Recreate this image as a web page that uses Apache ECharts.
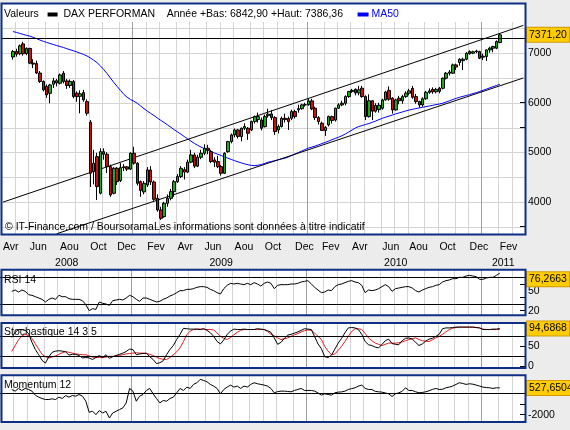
<!DOCTYPE html>
<html><head><meta charset="utf-8">
<script src="https://cdn.jsdelivr.net/npm/echarts@6/dist/echarts.min.js"></script>
<style>html,body{margin:0;padding:0;background:#ececec;}#c{width:570px;height:430px;}</style>
</head><body><div id="c"></div>
<script>
// ---------- DATA ----------
const firstMonday = [2008, 3, 7];     // category axis starts Monday 7 Apr 2008
const weekCount = 156;                // weekly categories on the axis
const firstDataWeek = 3;              // first candle: week of 28 Apr 2008
const monthNames = ['Jan','Fev','Mar','Avr','Mai','Jun','Jul','Aou','Sep','Oct','Nov','Dec'];
const labelMonths = [1,3,5,7,9,11];
const yearLow = 6842.90, yearHigh = 7386.36;
const refLine = 7305;
const priceTicks = [3500,4000,4500,5000,5500,6000,6500,7000,7500];
const priceLabels = [4000,5000,6000,7000];

// weekly [open, close, low, high]
const candles = [
[6925,7035,6870,7065],[7035,6980,6930,7090],[6990,7148,6960,7175],[7188,6990,6950,7229],[6990,7096,6960,7120],
[7096,6800,6780,7110],[6800,6780,6700,6880],[6790,6600,6580,6850],[6600,6430,6400,6640],[6430,6260,6230,6450],
[6330,6160,6100,6370],[6190,6360,5990,6380],[6374,6441,6300,6500],[6400,6445,6330,6480],[6394,6562,6370,6590],
[6596,6427,6390,6640],[6440,6350,6280,6480],[6347,6430,6300,6470],[6427,6124,6090,6460],[6192,6124,6020,6230],
[6130,6180,5788,6250],[6205,6057,6020,6260],[6023,5788,5740,6070],[5606,4576,4300,5650],[4610,4778,4350,5050],
[4912,4307,4037,4990],[4172,5013,4150,5080],[5013,4960,4850,5080],[4960,4710,4580,5000],[4710,4138,4100,4750],
[4172,4677,4150,4700],[4677,4407,4340,4700],[4430,4690,4400,4780],[4690,4705,4620,4760],[4705,4660,4620,4720],
[4660,4980,4640,5000],[4980,4780,4750,5110],[4778,4374,4330,4800],[4407,4230,4100,4430],[4200,4374,4150,4420],
[4340,4643,4300,4700],[4643,4400,4340,4720],[4400,4050,4020,4430],[4071,3835,3800,4150],[3835,3667,3633,3900],
[3700,3970,3680,4000],[3970,4071,3900,4150],[4071,4205,4030,4260],[4205,4407,4100,4440],[4407,4509,4380,4560],
[4509,4677,4480,4720],[4650,4600,4450,4700],[4600,4800,4580,4850],[4800,4946,4780,5050],[4946,4720,4680,4990],
[4720,4900,4700,4950],[4900,4980,4860,5050],[4980,5081,4940,5160],[5081,5040,4960,5150],[5013,4812,4780,5050],
[4845,4800,4700,4900],[4812,4710,4680,4930],[4710,4576,4530,4740],[4576,4980,4560,5000],[5013,5215,4990,5230],
[5215,5350,5180,5380],[5350,5451,5300,5480],[5451,5320,5280,5470],[5316,5485,5220,5500],[5485,5520,5450,5586],
[5485,5384,5250,5510],[5451,5620,5430,5640],[5620,5720,5580,5740],[5660,5720,5600,5800],[5653,5485,5440,5700],
[5518,5720,5500,5760],[5740,5770,5700,5880],[5774,5700,5650,5850],[5700,5417,5350,5730],[5451,5520,5380,5560],
[5520,5687,5500,5720],[5687,5660,5600,5780],[5680,5620,5450,5720],[5687,5822,5650,5860],[5822,5720,5680,5860],
[5855,5880,5800,5960],[5880,5956,5860,5980],[5956,5960,5920,6000],[5960,6037,5940,6090],[6037,5875,5850,6080],
[5889,5700,5650,5920],[5700,5620,5560,5730],[5586,5440,5430,5620],[5440,5500,5330,5530],[5552,5720,5520,5740],
[5720,5640,5580,5740],[5650,5889,5620,5900],[5889,5956,5880,5990],[5956,5990,5930,6040],[5990,6124,5950,6150],
[6124,6225,6100,6240],[6225,6250,6200,6280],[6270,6200,6150,6290],[6200,6260,6150,6340],[6293,6124,6100,6340],
[6124,5720,5650,6150],[5720,6040,5700,6170],[6040,5830,5650,6050],[5830,5946,5800,5990],[5860,5950,5800,6000],
[5889,6057,5860,6080],[6057,6216,6040,6240],[6250,6070,6040,6330],[6091,5855,5780,6110],[5855,6057,5840,6080],
[6090,6040,5970,6140],[6040,6124,5980,6160],[6124,6192,6100,6230],[6192,6240,6150,6280],[6290,6111,6080,6340],
[6124,6023,5980,6180],[6023,5956,5900,6040],[5956,6080,5920,6110],[6080,6210,6060,6240],[6210,6240,6180,6290],
[6270,6220,6180,6310],[6220,6270,6190,6300],[6293,6230,6190,6320],[6293,6495,6270,6510],[6495,6596,6470,6620],
[6596,6620,6550,6660],[6596,6764,6580,6790],[6764,6720,6660,6790],[6811,6878,6750,6900],[6850,6878,6660,6910],
[6878,7000,6860,7020],[7033,6990,6970,7060],[7000,7030,6980,7050],[7030,7045,7000,7070],[7033,6900,6880,7050],
[6920,6940,6860,6990],[6932,7067,6843,7080],[7067,7101,7010,7130],[7101,7135,7020,7150],[7101,7235,7080,7260],
[7215,7371.20,7200,7386.36]
];
const ma50 = [
7436,7420,7400,7380,7360,7345,7320,7295,7265,7240,7218,7196,7175,7155,7135,7115,7092,7070,7048,7025,
7000,6975,6945,6905,6860,6810,6745,6670,6590,6500,6410,6330,6250,6170,6110,6065,6030,5990,5935,5880,
5830,5785,5740,5690,5645,5600,5552,5505,5455,5410,5365,5318,5272,5225,5180,5140,5105,5070,5040,5012,
4985,4960,4935,4905,4880,4855,4830,4808,4785,4765,4748,4735,4730,4738,4755,4775,4800,4815,4830,4848,
4865,4880,4905,4935,4965,4995,5025,5055,5085,5105,5125,5150,5175,5200,5225,5255,5280,5305,5335,5370,
5410,5450,5490,5520,5540,5560,5580,5605,5630,5660,5685,5708,5730,5752,5775,5795,5815,5835,5853,5868,
5882,5895,5908,5920,5935,5948,5962,5975,5990,6015,6040,6065,6088,6110,6128,6146,6165,6185,6204,6228,
6250,6275,6300,6325,6348,6372
];
const upperTrend = [[0,3993],[155,7561]];
const lowerTrend = [[16,3355],[155,6500]];

const rsi = [
49,51,48,51,49,44,43,41,39,37, 33,37,39,37,43,41,41,38,37,37,
37,35,29,20,23,22,33,31,30,28, 35,36,37,36,39,43,41,37,34,39,
39,37,35,33,34,37,39,42,44,47, 50,50,52,52,53,55,56,56,55,52,
50,47,45,53,58,61,60,61,60,59, 61,59,62,60,57,61,63,61,53,58,
59,59,59,60,60,61,63,64,65,60, 55,51,47,48,51,50,56,59,60,62,
64,65,63,62,58,47,51,50,51,53, 56,59,56,49,53,54,55,56,56,54,
50,48,51,53,55,56,58,59,63,65, 66,68,68,70,70,72,73,72,71,67,
67,69,70,70,73,76.2663
];
const stochK = [
72,85,92,92,90,82,60,42,29,15, 8,24,35,38,39,38,36,28,30,30,
27,21,22,21,17,22,27,22,29,20, 24,27,30,33,37,43,42,29,31,32,
33,24,17,7,9,14,29,42,52,67, 80,95,94,93,93,93,92,94,90,84,
75,62,56,66,80,88,93,92,92,93, 92,92,92,94,93,92,89,85,71,55,
60,70,78,80,83,86,90,94,93,92, 74,56,44,24,22,28,43,58,70,84,
96,97,96,92,80,62,54,52,48,46, 55,64,68,57,55,54,64,70,71,68,
60,52,56,63,68,70,75,80,94,96, 96,97,98,98,98,98,98,98,97,96,
92,92,92,93,93,94.6868
];
const stochD = [
37,52,66,76,80,77,70,56,43,30, 24,21,23,26,30,34,37,35,33,31,
30,29,29,26,23,22,22,22,23,25, 25,26,27,29,31,32,33,34,33,33,
32,30,27,23,19,18,17,22,29,36, 46,62,79,88,92,93,93,93,92,92,
91,83,75,70,67,72,79,85,90,92, 92,92,92,92,92,92,87,80,76,71,
67,69,71,75,79,82,86,89,91,90, 83,75,67,50,38,29,31,40,50,62,
75,87,94,94,92,82,71,64,58,55, 52,55,58,58,58,59,61,64,67,69,
71,67,64,63,62,66,71,75,80,86, 92,95,97,98,98,98,98,98,97,96,
93,92,92,92,92,92
];
const momentum = [
381,222,476,286,476,381,222,-159,-349,-476, -571,-571,-508,-571,-349,-476,-190,-349,-190,-254,
-95,-254,-730,-1780,-1683,-2000,-1619,-1842,-1683,-2318, -1842,-1683,-1524,-1365,-900,476,220,-730,-254,-95,
286,476,-32,-476,-889,-667,-730,-476,-349,64, 476,286,603,476,857,1016,1334,1238,1111,857,
699,476,-32,381,603,794,603,699,476,699, 603,857,1016,921,857,794,699,476,64,180,
222,222,190,159,286,380,476,286,286,286, 222,50,-159,-32,-95,-159,64,127,150,222,
381,460,540,700,794,476,381,381,200,159, 127,50,-32,-286,-32,64,200,540,286,286,
159,64,100,159,260,381,476,381,400,540, 603,700,857,1016,950,857,921,880,794,700,
603,560,540,476,540,527.6504
];
const rsiLevels = [70, 30], stochLevels = [75, 25], momLevels = [0];

// ---------- BUILD ----------
const FONT = "'Liberation Sans', Arial, sans-serif";
const FS = 10.5;
const GRID_LINE = '#d4d4d4', YEAR_LINE = '#a0a0a0', BORDER = '#0f2f86';
const cats = [];
let t = Date.UTC(firstMonday[0], firstMonday[1], firstMonday[2]);
for (let k = 0; k < weekCount; k++) { cats.push(new Date(t).toISOString().slice(0,10)); t += 7*864e5; }
const dayOf = k => +cats[k].slice(8,10), monOf = k => +cats[k].slice(5,7)-1, yrOf = k => cats[k].slice(0,4);
const isMonthLabel = k => dayOf(k) <= 7 && labelMonths.indexOf(monOf(k)) >= 0;
const isMonthGrid = k => dayOf(k) >= 2 && dayOf(k) <= 8;
const yearLabelIdx = new Set();
(function(){ const span = {}; cats.forEach((c,k)=>{const y=yrOf(k); if(!span[y]) span[y]=[k,k]; span[y][1]=k;});
  Object.keys(span).forEach(y=>yearLabelIdx.add(Math.round((span[y][0]+span[y][1])/2))); })();
const monthGridIdx = [], yearGridIdx = [];
cats.forEach((c,k)=>{ if (isMonthGrid(k)) (monOf(k) === 0 ? yearGridIdx : monthGridIdx).push(k); });

const lead = n => Array(n).fill('-');
const pad = a => lead(firstDataWeek).concat(a);
const fmt = (v, d) => v.toFixed(d).replace('.', ',');

function monthAxis(g, show) {
  return { type:'category', gridIndex:g, data:cats, position:'bottom',
    axisLine:{show:false}, axisTick:{show:false},
    axisLabel:{show:show, interval:(k)=>isMonthLabel(k), formatter:(v)=>monthNames[+v.slice(5,7)-1],
      align:'left', margin:8, color:'#000', fontSize:FS, fontFamily:FONT},
    splitLine:{show:false} };
}
function yearAxis(g, show) {
  return { type:'category', gridIndex:g, data:cats, position:'bottom', offset:16,
    axisLine:{show:false}, axisTick:{show:false},
    axisLabel:{show:show, interval:(k)=>yearLabelIdx.has(k), formatter:(v)=>v.slice(0,4),
      align:'center', margin:8, color:'#000', fontSize:FS, fontFamily:FONT},
    splitLine:{show:false} };
}
function valAxis(g, min, max, ticks, labels) {
  return { type:'value', gridIndex:g, min:min, max:max, position:'right',
    axisLine:{show:false},
    axisTick:{show:true, inside:true, length:5, customValues:ticks, lineStyle:{color:'#000'}},
    axisLabel:{customValues:labels, margin:3, color:'#000', fontSize:FS, fontFamily:FONT, formatter:(v)=>String(v)},
    splitLine:{show:false} };
}
// crisp grid lines placed through the axes' own scales (custom series)
function vGrid(xi, yi, idxList, yRef, color) {
  return {type:'custom', xAxisIndex:xi, yAxisIndex:yi, z:1, silent:true, clip:false,
    encode:{x:0, y:1}, data: idxList.map(k=>[k, yRef]),
    renderItem:(params, api)=>{
      const cs = params.coordSys;
      const c = api.coord([api.value(0), api.value(1)]);
      const bw = api.size([1, 0])[0];
      const x = Math.round(c[0] - bw/2) + 0.5;
      return {type:'line', silent:true, shape:{x1:x, y1:cs.y, x2:x, y2:cs.y + cs.height},
        style:{stroke:color, lineWidth:1}};
    }};
}
function hGrid(xi, yi, vals, color) {
  return {type:'custom', xAxisIndex:xi, yAxisIndex:yi, z:1, silent:true, clip:false,
    encode:{x:0, y:1}, data: vals.map(v=>[0, v]),
    renderItem:(params, api)=>{
      const cs = params.coordSys;
      const y = Math.round(api.coord([api.value(0), api.value(1)])[1]) + 0.5;
      return {type:'line', silent:true, shape:{x1:cs.x, y1:y, x2:cs.x + cs.width, y2:y},
        style:{stroke:color, lineWidth:1}};
    }};
}
const boxLabel = (text, extra) => Object.assign({show:true, position:'end', distance:2, formatter:text,
  backgroundColor:'#ffcc00', borderColor:'#d09a00', borderWidth:1, padding:[2,2,1,2],
  color:'#000', fontSize:FS, fontFamily:FONT, opacity:1}, extra||{});
const levelLines = (lv) => lv.map(v=>({yAxis:v, lineStyle:{color:'#000', width:1, type:'solid'}, label:{show:false}}));
const valueMark = (v, text, extra) => ({yAxis:v, lineStyle:{color:'rgba(0,0,0,0)', width:1}, label:boxLabel(text, extra)});
const last = a => a[a.length-1];
const gridBox = (top, h) => ({left:0, right:45, top:top, height:h, show:true, backgroundColor:'#fff', borderWidth:0});

const option = {
  animation:false,
  backgroundColor:'#ececec',
  title:{ left:4, top:9, padding:0,
    text:'Valeurs   {k| }  DAX PERFORMAN    Année +Bas: ' + fmt(yearLow,2) + ' +Haut: ' + fmt(yearHigh,2) + '     {b| } {m|MA50}',
    textStyle:{fontSize:FS, fontWeight:'normal', color:'#000', fontFamily:FONT,
      rich:{k:{width:10, height:4, backgroundColor:'#000'}, b:{width:11, height:4, backgroundColor:'#0000ff'},
            m:{color:'#0000ff', fontSize:FS, fontFamily:FONT}}}},
  grid:[ gridBox(22,212), gridBox(270,45), gridBox(323,45), gridBox(375,47) ],
  xAxis:[monthAxis(0,true), yearAxis(0,true), monthAxis(1,false), yearAxis(1,false),
         monthAxis(2,false), yearAxis(2,false), monthAxis(3,false), yearAxis(3,false)],
  yAxis:[
    valAxis(0, 3350, 7630, priceTicks, priceLabels),
    valAxis(1, 13.5, 81, [20,40,60], [20,50]),
    valAxis(2, -4.2, 108.3, [0,50], [0,50]),
    valAxis(3, -2699, 1749, [0,-1000,-2000], [0,-2000])
  ],
  graphic:[
    {type:'rect', z:-10, shape:{x:1.5, y:3.5, width:524, height:18.5}, style:{fill:'#fff'}},
    {type:'rect', z:100, shape:{x:1.5, y:3.5, width:524, height:231}, style:{fill:'none', stroke:BORDER, lineWidth:2}},
    {type:'rect', z:100, shape:{x:1.5, y:269.7, width:524, height:45.6}, style:{fill:'none', stroke:BORDER, lineWidth:2}},
    {type:'rect', z:100, shape:{x:1.5, y:323, width:524, height:45}, style:{fill:'none', stroke:BORDER, lineWidth:2}},
    {type:'rect', z:100, shape:{x:1.5, y:375.3, width:524, height:46.7}, style:{fill:'none', stroke:BORDER, lineWidth:2}},
    {type:'text', z:1.5, x:5, y:227, style:{text:'© IT-Finance.com / BoursoramaLes informations sont données à titre indicatif', fill:'#000', font:FS+'px '+FONT, verticalAlign:'middle'}},
    {type:'text', z:1.5, x:4, y:280, style:{text:'RSI 14', fill:'#000', font:FS+'px '+FONT, verticalAlign:'middle'}},
    {type:'text', z:1.5, x:4, y:332.5, style:{text:'Stochastique 14 3 5', fill:'#000', font:FS+'px '+FONT, verticalAlign:'middle'}},
    {type:'text', z:1.5, x:4, y:385.5, style:{text:'Momentum 12', fill:'#000', font:FS+'px '+FONT, verticalAlign:'middle'}}
  ],
  series:[
    hGrid(0, 0, priceTicks, GRID_LINE),
    vGrid(0, 0, monthGridIdx, 5000, GRID_LINE), vGrid(0, 0, yearGridIdx, 5000, YEAR_LINE),
    vGrid(2, 1, monthGridIdx, 50, GRID_LINE),   vGrid(2, 1, yearGridIdx, 50, YEAR_LINE),
    vGrid(4, 2, monthGridIdx, 50, GRID_LINE),   vGrid(4, 2, yearGridIdx, 50, YEAR_LINE),
    vGrid(6, 3, monthGridIdx, 0, GRID_LINE),    vGrid(6, 3, yearGridIdx, 0, YEAR_LINE),
    {type:'candlestick', name:'DAX PERFORMAN', xAxisIndex:0, yAxisIndex:0, barWidth:3, z:3,
      data: lead(firstDataWeek).map(()=>['-','-','-','-']).concat(candles),
      itemStyle:{color:'#16b016', color0:'#cc1010', borderColor:'#000', borderColor0:'#000', borderWidth:1},
      markLine:{silent:true, symbol:'none', animation:false, data:[
        {yAxis:refLine, lineStyle:{color:'#000', width:1, type:'solid'}, label:{show:false}},
        valueMark(last(candles)[1], fmt(last(candles)[1],2))
      ]}},
    {type:'line', name:'MA50', xAxisIndex:0, yAxisIndex:0, data:pad(ma50), symbol:'none', z:3,
      lineStyle:{color:'#0000ff', width:1}},
    {type:'line', xAxisIndex:0, yAxisIndex:0, data:upperTrend, symbol:'none', z:3, lineStyle:{color:'#000', width:1}},
    {type:'line', xAxisIndex:0, yAxisIndex:0, data:lowerTrend, symbol:'none', z:3, lineStyle:{color:'#000', width:1}},
    {type:'line', xAxisIndex:2, yAxisIndex:1, data:pad(rsi), symbol:'none', z:3, lineStyle:{color:'#000', width:1},
      markLine:{silent:true, symbol:'none', animation:false, data: levelLines(rsiLevels).concat([
        valueMark(last(rsi), fmt(last(rsi),4), {offset:[0,6]})])}},
    {type:'line', xAxisIndex:4, yAxisIndex:2, data:pad(stochD), symbol:'none', z:3, lineStyle:{color:'#dd2020', width:1}},
    {type:'line', xAxisIndex:4, yAxisIndex:2, data:pad(stochK), symbol:'none', z:3, lineStyle:{color:'#000', width:1},
      markLine:{silent:true, symbol:'none', animation:false, data: levelLines(stochLevels).concat([
        valueMark(last(stochK), fmt(last(stochK),4))])}},
    {type:'line', xAxisIndex:6, yAxisIndex:3, data:pad(momentum), symbol:'none', z:3, lineStyle:{color:'#000', width:1},
      markLine:{silent:true, symbol:'none', animation:false, data: levelLines(momLevels).concat([
        valueMark(last(momentum), fmt(last(momentum),4))])}}
  ]
};
const chart = echarts.init(document.getElementById('c'));
chart.setOption(option);
</script></body></html>
